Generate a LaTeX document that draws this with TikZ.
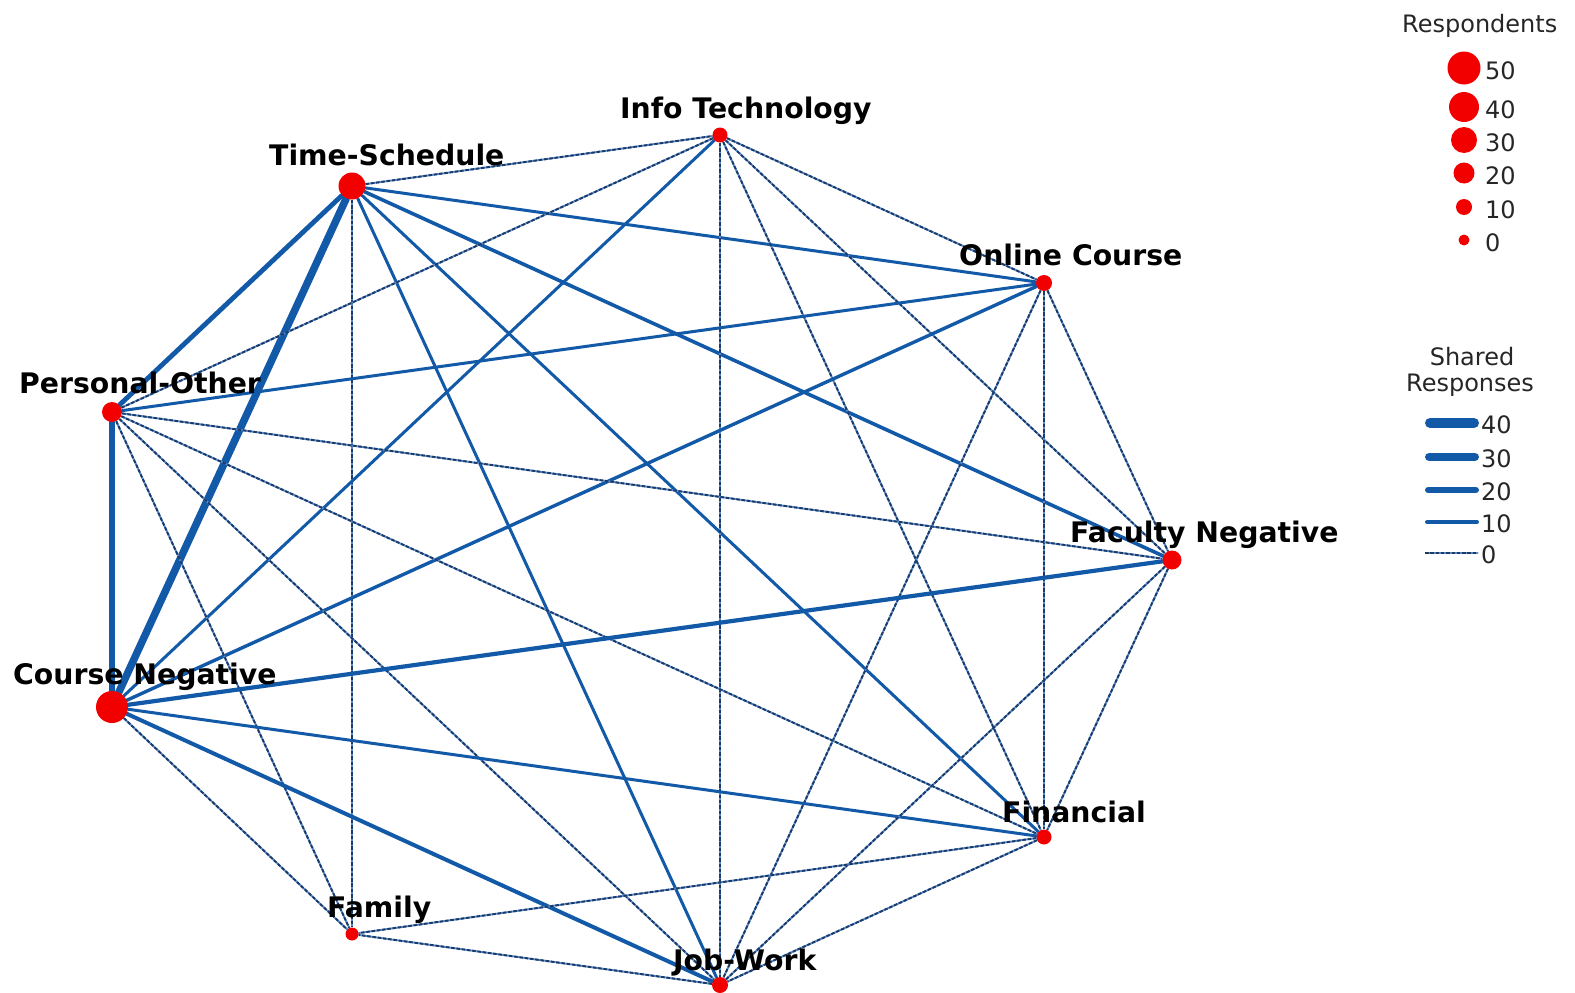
\documentclass[tikz,border=0pt]{standalone}
\usepackage{fontspec}
\setmainfont{DejaVu Sans}
\pgfdeclarelayer{background}
\pgfsetlayers{background,main}
\definecolor{nodered}{HTML}{F20000}
\definecolor{edgeblue}{HTML}{1259A8}
\definecolor{dashdark}{HTML}{1B3A68}
\definecolor{dashlight}{HTML}{5A8CCB}
\begin{document}
\begin{tikzpicture}[x=1pt,y=-1pt,
  vtx/.style={circle,fill=nodered,draw=none,inner sep=0pt,minimum size=#1},
  lbl/.style={font=\fontsize{28.3}{30}\selectfont\bfseries,inner sep=0pt,anchor=base west,text=black},
  leg/.style={font=\fontsize{24}{26}\selectfont,inner sep=0pt,text=black!85},
  wt/.style={draw=edgeblue,line width=#1,line cap=round},
  nil/.style={draw=dashdark,line width=1.9,dash pattern=on 3.5pt off 1.8pt,
    preaction={draw=dashlight,line width=1.9,solid}},
]
\useasboundingbox (0,0) rectangle (1575,993);

% category nodes, sized by respondents
\node[vtx=15] (it) at (720,135) {};
\node[vtx=27] (ts) at (352,186) {};
\node[vtx=16] (oc) at (1044,283) {};
\node[vtx=20] (po) at (112,412) {};
\node[vtx=19] (fn) at (1172,560) {};
\node[vtx=32] (cn) at (112,707) {};
\node[vtx=15] (fi) at (1044,837) {};
\node[vtx=13] (fa) at (352,934) {};
\node[vtx=16] (jw) at (720,985) {};

% shared responses
\begin{pgfonlayer}{background}
\draw[nil] (ts) -- (it);
\draw[wt=3] (ts) -- (oc);
\draw[wt=3.6] (ts) -- (fn);
\draw[wt=3] (ts) -- (fi);
\draw[wt=3] (ts) -- (jw);
\draw[nil] (ts) -- (fa);
\draw[wt=7.5] (ts) -- (cn);
\draw[wt=4.8] (ts) -- (po);
\draw[nil] (it) -- (po);
\draw[wt=3] (it) -- (cn);
\draw[nil] (it) -- (jw);
\draw[nil] (it) -- (fi);
\draw[nil] (it) -- (fn);
\draw[nil] (it) -- (oc);
\draw[wt=3] (oc) -- (po);
\draw[wt=3.4] (oc) -- (cn);
\draw[nil] (oc) -- (fn);
\draw[nil] (oc) -- (fi);
\draw[nil] (oc) -- (jw);
\draw[nil] (po) -- (fn);
\draw[nil] (po) -- (fi);
\draw[nil] (po) -- (jw);
\draw[nil] (po) -- (fa);
\draw[wt=5.5] (po) -- (cn);
\draw[wt=4.2] (cn) -- (fn);
\draw[wt=3] (cn) -- (fi);
\draw[wt=4] (cn) -- (jw);
\draw[nil] (cn) -- (fa);
\draw[nil] (fn) -- (fi);
\draw[nil] (fn) -- (jw);
\draw[nil] (fi) -- (fa);
\draw[nil] (fi) -- (jw);
\draw[nil] (jw) -- (fa);
\end{pgfonlayer}

% category labels
\node[lbl] (it-l) at (620,118) {Info Technology};
\node[lbl] (ts-l) at (269,165) {Time-Schedule};
\node[lbl] (oc-l) at (959,265) {Online Course};
\node[lbl] (po-l) at (19,393) {Personal-Other};
\node[lbl] (fn-l) at (1070,542) {Faculty Negative};
\node[lbl] (cn-l) at (13,684) {Course Negative};
\node[lbl] (fi-l) at (1002,822) {Financial};
\node[lbl] (fa-l) at (327,917) {Family};
\node[lbl] (jw-l) at (673,970) {Job-Work};

% legend: respondents
\node[leg,anchor=base west] (rt) at (1402,32) {Respondents};
\foreach \v/\y/\s in {50/68/33,40/107/30,30/140/26,20/173/21,10/207/16,0/240/11}{
  \node[vtx=\s] (r\v) at (1464,\y) {};
  \node[leg,anchor=west] (r\v-l) at (1485,\y+3) {\v};
}

% legend: shared responses
\node[leg,anchor=base] (st1) at (1472,365) {Shared};
\node[leg,anchor=base] (st2) at (1470,391) {Responses};
\foreach \v/\y/\w in {40/423/10,30/457/8.5,20/490/6.5,10/522/4.5}{
  \coordinate (s\v a) at (1425+\w/2,\y);
  \coordinate (s\v b) at (1479-\w/2,\y);
  \draw[wt=\w] (s\v a) -- (s\v b);
  \node[leg,anchor=west] (s\v-l) at (1481,\y+2) {\v};
}
\coordinate (s0a) at (1425,553);
\coordinate (s0b) at (1478,553);
\draw[nil] (s0a) -- (s0b);
\node[leg,anchor=west] (s0-l) at (1481,555) {0};
\end{tikzpicture}
\end{document}
